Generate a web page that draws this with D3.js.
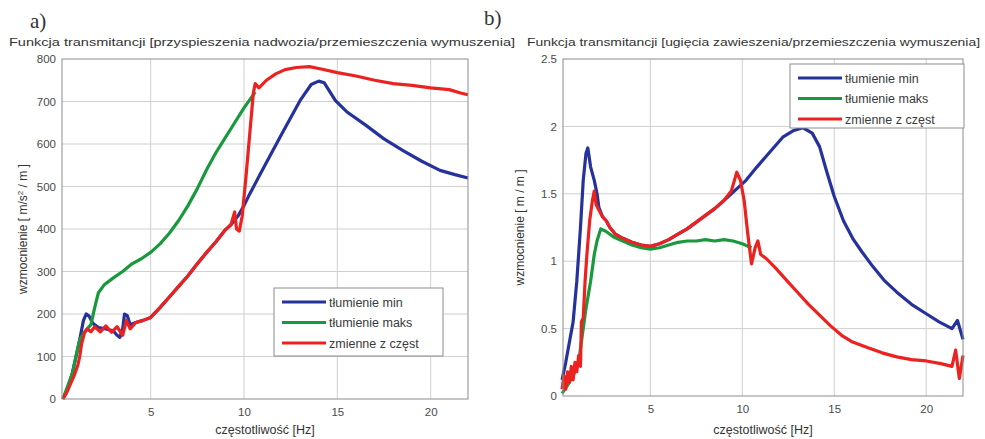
<!DOCTYPE html>
<html>
<head>
<meta charset="utf-8">
<script src="https://cdn.jsdelivr.net/npm/d3@7"></script>
<style>
	body { margin: 0; background: #fff; }
	svg { display: block; font-family: "Liberation Sans", Arial, sans-serif; }
	.grid line { stroke: #cfcfcf; stroke-width: 1; }
	.tick text { fill: #4a4a4a; font-size: 11.5px; }
</style>
</head>
<body>
<svg id="chart" width="985" height="439"></svg>
<script>
	'use strict';

	var seriesNames = ['tłumienie min', 'tłumienie maks', 'zmienne z częst'],
		seriesColors = ['#25329c', '#19993d', '#ec2220'];

	var xTicks = [5, 10, 15, 20],
		leftYTicks = [0, 100, 200, 300, 400, 500, 600, 700, 800],
		rightYTicks = [0, 0.5, 1, 1.5, 2, 2.5],
		rightYLabels = ['0', '0.5', '1', '1.5', '2', '2.5'];

	// a) body acceleration / road displacement  [Hz, gain]
	var leftMin = [[0.3,0],[0.6,30],[0.8,60],[1.0,100],[1.2,140],[1.4,185],[1.55,200],[1.7,195],[1.9,178],
		[2.2,168],[2.6,165],[3.0,160],[3.2,150],[3.35,145],[3.5,165],[3.6,200],[3.75,196],[3.9,175],[4.2,180],
		[4.6,185],[5.0,192],[5.5,215],[6.0,240],[6.5,265],[7.0,290],[7.5,318],[8.0,345],[8.5,370],[9.0,398],
		[9.3,410],[9.7,432],[10.0,455],[10.3,482],[11,540],[12,622],[13,702],[13.6,740],[14,748],[14.3,744],
		[14.9,702],[15.5,676],[16.5,645],[17.5,612],[18.5,585],[19.5,560],[20.5,538],[21.3,528],[22,520]];
	var leftMax = [[0.3,0],[0.8,60],[1.2,140],[1.5,160],[1.8,175],[2.0,215],[2.2,250],[2.5,268],[3.0,285],
		[3.5,300],[4.0,318],[4.5,330],[5.0,345],[5.5,365],[6.0,390],[6.5,420],[7.0,455],[7.5,495],[8.0,540],
		[8.5,580],[9.0,615],[9.5,650],[10.0,685],[10.6,722]];
	var leftVar = [[0.3,0],[0.5,15],[0.7,35],[0.9,55],[1.1,80],[1.2,100],[1.3,130],[1.45,155],[1.6,165],
		[1.8,158],[2.0,170],[2.3,158],[2.6,172],[2.9,157],[3.2,170],[3.5,150],[3.7,185],[3.9,165],[4.2,180],
		[4.6,185],[5.0,192],[5.5,215],[6.0,240],[6.5,265],[7.0,290],[7.5,318],[8.0,345],[8.5,370],[9.0,398],
		[9.3,410],[9.5,440],[9.6,400],[9.75,395],[9.9,430],[10.1,520],[10.3,620],[10.5,720],[10.6,742],
		[10.8,732],[11.2,750],[11.7,765],[12.2,775],[12.8,780],[13.5,782],[14.2,776],[15,768],[16,760],
		[17,750],[18,742],[19,738],[20,732],[21,728],[21.6,720],[22,716]];

	// b) suspension deflection / road displacement  [Hz, gain]
	var rightMin = [[0.2,0.12],[0.4,0.25],[0.6,0.4],[0.8,0.55],[1.0,0.85],[1.2,1.25],[1.35,1.6],[1.5,1.8],
		[1.6,1.84],[1.75,1.7],[1.95,1.6],[2.1,1.5],[2.2,1.4],[2.4,1.33],[2.6,1.3],[2.8,1.25],[3.1,1.2],
		[3.5,1.17],[4.0,1.14],[4.5,1.12],[5.0,1.11],[5.5,1.13],[6.0,1.16],[6.5,1.2],[7.0,1.24],[7.5,1.29],
		[8.0,1.34],[8.5,1.39],[9.0,1.45],[9.4,1.5],[9.8,1.55],[10.2,1.6],[10.8,1.7],[11.5,1.81],[12.2,1.92],
		[12.8,1.97],[13.3,1.99],[13.8,1.95],[14.2,1.85],[14.6,1.66],[15.0,1.48],[15.5,1.3],[16,1.17],
		[16.5,1.07],[17.1,0.96],[17.7,0.86],[18.4,0.77],[19.2,0.68],[20,0.61],[20.7,0.55],[21.4,0.5],
		[21.7,0.56],[22,0.42]];
	var rightMax = [[0.2,0.02],[0.5,0.08],[0.8,0.15],[1.1,0.25],[1.3,0.45],[1.5,0.65],[1.75,0.85],
		[1.95,1.05],[2.1,1.15],[2.3,1.24],[2.6,1.22],[3.0,1.18],[3.5,1.15],[4.0,1.12],[4.5,1.1],[5.0,1.09],
		[5.5,1.1],[6.0,1.12],[6.5,1.14],[7.0,1.15],[7.5,1.15],[8.0,1.16],[8.5,1.15],[9.0,1.16],[9.5,1.15],
		[10.0,1.13],[10.5,1.1]];
	var rightVar = [[0.2,0.05],[0.3,0.15],[0.4,0.05],[0.5,0.18],[0.6,0.1],[0.7,0.22],[0.8,0.12],[0.9,0.25],
		[1.0,0.18],[1.1,0.3],[1.2,0.22],[1.25,0.55],[1.35,0.58],[1.45,0.85],[1.55,1.05],[1.7,1.3],[1.85,1.45],
		[1.95,1.52],[2.05,1.42],[2.2,1.38],[2.4,1.33],[2.6,1.3],[2.8,1.25],[3.1,1.2],[3.5,1.17],[4.0,1.14],
		[4.5,1.12],[5.0,1.11],[5.5,1.13],[6.0,1.16],[6.5,1.2],[7.0,1.24],[7.5,1.29],[8.0,1.34],[8.5,1.39],
		[9.0,1.45],[9.4,1.52],[9.7,1.66],[9.9,1.6],[10.1,1.45],[10.3,1.2],[10.5,0.98],[10.7,1.1],[10.85,1.15],
		[11.0,1.05],[11.3,1.02],[11.8,0.95],[12.4,0.86],[13.0,0.77],[13.6,0.68],[14.2,0.6],[14.8,0.52],
		[15.4,0.45],[16.0,0.4],[16.8,0.36],[17.6,0.32],[18.4,0.29],[19.2,0.27],[20.0,0.26],[20.8,0.24],
		[21.4,0.22],[21.6,0.34],[21.8,0.13],[22,0.3]];

	var svg = d3.select('#chart');

	// panel letters
	svg.append('text').attr('x', 30).attr('y', 28)
		.style('font-family', '"Liberation Serif", serif').style('font-size', '21px').attr('fill', '#333')
		.text('a)');
	svg.append('text').attr('x', 484).attr('y', 25)
		.style('font-family', '"Liberation Serif", serif').style('font-size', '21px').attr('fill', '#333')
		.text('b)');

	function drawPanel(opt) {
		var x = d3.scaleLinear().domain([0.25, 22]).range([opt.left, opt.right]),
			y = d3.scaleLinear().domain(opt.yDomain).range([opt.bottom, opt.top]);

		var g = svg.append('g');

		// grid
		g.append('g').attr('class', 'grid')
			.selectAll('line.v').data(xTicks).enter().append('line')
			.attr('x1', x).attr('x2', x).attr('y1', opt.top).attr('y2', opt.bottom);
		g.append('g').attr('class', 'grid')
			.selectAll('line.h').data(opt.yTicks.slice(1, -1)).enter().append('line')
			.attr('x1', opt.left).attr('x2', opt.right).attr('y1', y).attr('y2', y);

		// axes
		var xAxis = g.append('g').attr('transform', 'translate(0,' + opt.bottom + ')')
			.call(d3.axisBottom(x).tickValues(xTicks).tickSize(0).tickPadding(9));
		var yAxis = g.append('g').attr('transform', 'translate(' + opt.left + ',0)')
			.call(d3.axisLeft(y).tickValues(opt.yTicks).tickSize(0).tickPadding(6)
				.tickFormat(function (d, i) { return opt.yLabels[i]; }));
		xAxis.select('.domain').remove();
		yAxis.select('.domain').remove();

		// curves
		var line = d3.line()
			.x(function (d) { return x(d[0]); })
			.y(function (d) { return y(d[1]); });

		var lines = g.append('g');
		opt.series.forEach(function (s, i) {
			lines.append('path')
				.attr('d', line(s))
				.attr('fill', 'none')
				.attr('stroke', seriesColors[i])
				.attr('stroke-width', 3.2)
				.attr('stroke-linejoin', 'round');
		});

		// frame
		g.append('rect')
			.attr('x', opt.left).attr('y', opt.top)
			.attr('width', opt.right - opt.left).attr('height', opt.bottom - opt.top)
			.attr('fill', 'none').attr('stroke', '#8c8c8c').attr('stroke-width', 1);

		// title and axis labels
		svg.append('text')
			.attr('x', opt.titleX).attr('y', 46)
			.attr('textLength', opt.titleWidth).attr('lengthAdjust', 'spacingAndGlyphs')
			.style('font-size', '11.5px').attr('fill', '#333')
			.text(opt.title);

		svg.append('text')
			.attr('x', (opt.left + opt.right) / 2).attr('y', 434)
			.attr('text-anchor', 'middle')
			.style('font-size', '12.5px').attr('fill', '#333')
			.text('częstotliwość [Hz]');

		var yl = svg.append('text')
			.attr('transform', 'translate(' + opt.yLabelX + ',' + (opt.top + opt.bottom) / 2 + ') rotate(-90)')
			.attr('text-anchor', 'middle')
			.style('font-size', '12px').attr('fill', '#333');
		opt.yLabel(yl);

		// legend
		var lg = svg.append('g').attr('transform', 'translate(' + opt.legend[0] + ',' + opt.legend[1] + ')');
		lg.append('rect')
			.attr('width', opt.legend[2]).attr('height', opt.legend[3])
			.attr('fill', '#fff').attr('stroke', '#8c8c8c');
		seriesNames.forEach(function (name, i) {
			var ly = 14 + i * 20.5;
			lg.append('line')
				.attr('x1', 8).attr('x2', 52).attr('y1', ly).attr('y2', ly)
				.attr('stroke', seriesColors[i]).attr('stroke-width', 3);
			lg.append('text')
				.attr('x', 55).attr('y', ly + 4.5)
				.style('font-size', '12.5px').attr('fill', '#3a3a3a')
				.text(name);
		});
	}

	drawPanel({
		left: 62, right: 468, top: 59, bottom: 399,
		yDomain: [0, 800], yTicks: leftYTicks, yLabels: leftYTicks.map(String),
		series: [leftMin, leftMax, leftVar],
		title: 'Funkcja transmitancji [przyspieszenia nadwozia/przemieszczenia wymuszenia]',
		titleX: 9, titleWidth: 506,
		yLabelX: 27,
		yLabel: function (t) {
			t.append('tspan').text('wzmocnienie [ m/s');
			t.append('tspan').attr('dy', -4).style('font-size', '8px').text('2');
			t.append('tspan').attr('dy', 4).text('  /  m ]');
		},
		legend: [274, 288, 169, 68]
	});

	drawPanel({
		left: 563, right: 963, top: 59, bottom: 396,
		yDomain: [0, 2.5], yTicks: rightYTicks, yLabels: rightYLabels,
		series: [rightMin, rightMax, rightVar],
		title: 'Funkcja transmitancji [ugięcia zawieszenia/przemieszczenia wymuszenia]',
		titleX: 527, titleWidth: 453,
		yLabelX: 524,
		yLabel: function (t) {
			t.text('wzmocnienie [  m  /  m  ]');
		},
		legend: [790, 64, 174, 64]
	});
</script>
</body>
</html>
